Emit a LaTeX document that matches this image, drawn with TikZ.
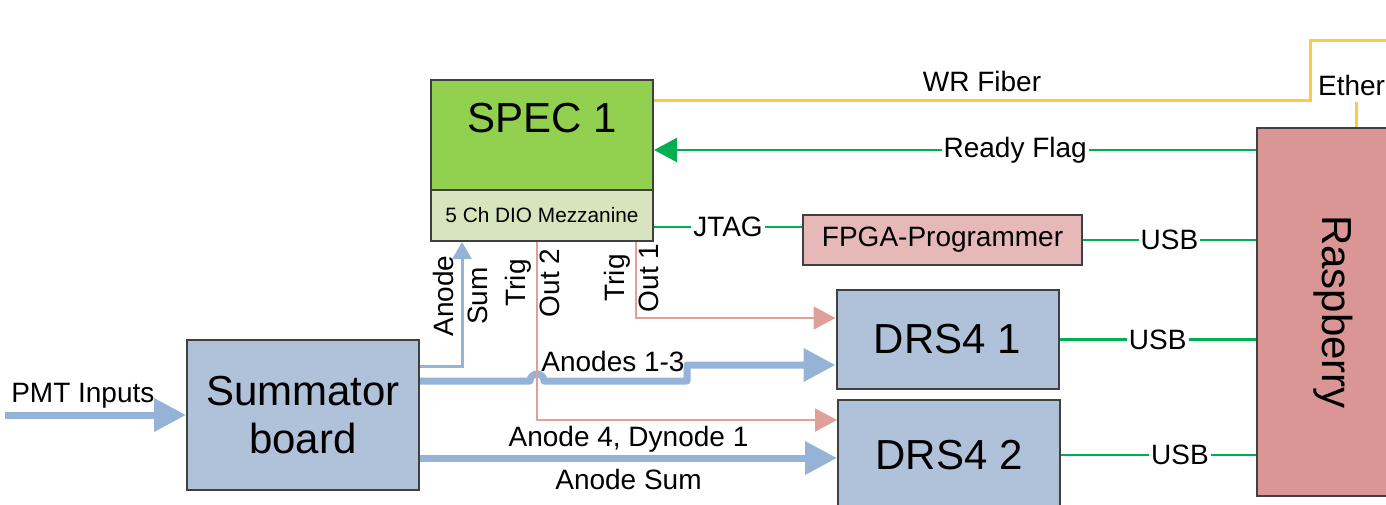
\documentclass[tikz,border=0pt]{standalone}
\usepackage{fontspec}
\setmainfont{Liberation Sans}
\usetikzlibrary{arrows.meta,calc}
\definecolor{boxline}{HTML}{404040}
\definecolor{specgreen}{HTML}{92D050}
\definecolor{mezzgreen}{HTML}{D7E4BD}
\definecolor{boardblue}{HTML}{B0C2DA}
\definecolor{fpgared}{HTML}{E6B9B8}
\definecolor{raspred}{HTML}{D99694}
\definecolor{busblue}{HTML}{95B3D7}
\definecolor{trigred}{HTML}{E0A09A}
\definecolor{wiregreen}{HTML}{00B050}
\definecolor{fiberyellow}{HTML}{FFC845}
\newcommand{\bigtext}{\fontsize{21}{24}\selectfont}
\newcommand{\midtext}{\fontsize{14}{17}\selectfont}
\tikzstyle{board}=[draw=boxline,line width=1pt,fill=boardblue,inner sep=0pt,font=\bigtext,align=center]
\tikzstyle{wire}=[draw=wiregreen,line width=1.2pt]
\tikzstyle{wirelabel}=[fill=white,inner sep=1pt,font=\midtext]
\tikzstyle{bus}=[draw=busblue,line width=3.5pt,line join=round,-{Triangle[length=16pt,width=16pt]}]
\tikzstyle{thinbus}=[draw=busblue,line width=1.5pt,-{Triangle[length=8.5pt,width=9.5pt]}]
\tikzstyle{trig}=[draw=trigred,line width=1pt,-{Triangle[length=11pt,width=11.5pt]}]
\tikzstyle{fiber}=[draw=fiberyellow,line width=1.5pt]
\tikzstyle{sidelabel}=[font=\midtext,rotate=90,align=center,inner sep=0pt]
\begin{document}
\begin{tikzpicture}[x=0.5pt,y=-0.5pt]
    \useasboundingbox (0,0) rectangle (1386,504);
    % First we draw the boards
    \node[board,fill=specgreen,minimum width=111pt,minimum height=55pt,
          label={[font=\bigtext,yshift=8.5pt]center:SPEC 1}] (spec) at (542,135) {};
    \node[board,fill=mezzgreen,minimum width=111pt,minimum height=25.5pt,
          font=\fontsize{10.4}{12}\selectfont] (mezz) at (542,215.5) {5 Ch DIO Mezzanine};
    \node[board,fill=fpgared,minimum width=139.5pt,minimum height=25pt,font=\midtext] (fpga) at (942.5,240) {FPGA-Programmer};
    \foreach \pos/\name/\h/\txt in {{(947.5,339.5)/drsone/49.5pt/DRS4 1},{(949,455)/drstwo/55pt/DRS4 2}}
        \node[board,minimum width=111pt,minimum height=\h] (\name) at \pos {\txt};
    \node[board,minimum width=116pt,minimum height=75pt] (summ) at (303,415) {Summator\\board};
    \node[board,fill=raspred,minimum width=76pt,minimum height=184pt,
          label={[font=\bigtext,rotate=-90]center:Raspberry}] (rasp) at (1333,312) {};

    % Fiber and ethernet
    \coordinate (fiberbend) at (1310,100);
    \coordinate (fiberout) at (1400,40);
    \draw[fiber] (spec.east |- fiberbend) -- node[above,font=\midtext]{WR Fiber} (fiberbend) |- (fiberout);
    \node[font=\midtext,anchor=west] (ethlbl) at (1311,85) {Ethernet};
    \draw[fiber] (ethlbl.south -| 1356,0) -- (rasp.north -| 1356,0);

    % Green control lines
    \draw[wire,{Triangle[length=11.5pt,width=12pt]}-] (spec.east |- 0,150) -- node[pos=0.6,wirelabel]{Ready Flag} (rasp.west |- 0,150);
    \draw[wire] (mezz.east |- 0,227) -- node[wirelabel]{JTAG} (fpga.west |- 0,227);
    \foreach \source/\where in {fpga/0.5,drsone/0.5,drstwo/0.61}
        \draw[wire] (\source.east) -- node[pos=\where,wirelabel]{USB} (rasp.west |- \source.east);

    % Analog signals
    \coordinate (pmtin) at (5,415);
    \draw[bus] (pmtin) -- node[pos=0.43,above,inner sep=1.5pt,font=\midtext]{PMT Inputs} (summ.west);
    \draw[thinbus] (summ.east |- 0,366) -| (mezz.south -| 462,0);
    \node[sidelabel] (anodesum) at (460,296) {Anode\\Sum};
    \draw[bus] (summ.east |- 0,381) -- (530,381) arc[start angle=180,end angle=0,radius=3.5pt]
        -- (687,381) -- (687,365) -- (drsone.west |- 0,365);
    \node[font=\midtext] (anodes) at (613,361) {Anodes 1-3};
    \draw[bus] (summ.east |- 0,458) -- node[above,inner sep=1pt,font=\midtext]{Anode 4, Dynode 1}
        node[below,inner sep=4pt,font=\midtext]{Anode Sum} (drstwo.west |- 0,458);

    % Trigger outputs
    \draw[trig] (mezz.south -| 636,0) |- (drsone.west |- 0,318);
    \node[sidelabel] (trigone) at (631,278) {Trig\\Out 1};
    \draw[trig] (mezz.south -| 537,0) |- (drstwo.west |- 0,420);
    \node[sidelabel] (trigtwo) at (532,283) {Trig\\Out 2};
\end{tikzpicture}
\end{document}
